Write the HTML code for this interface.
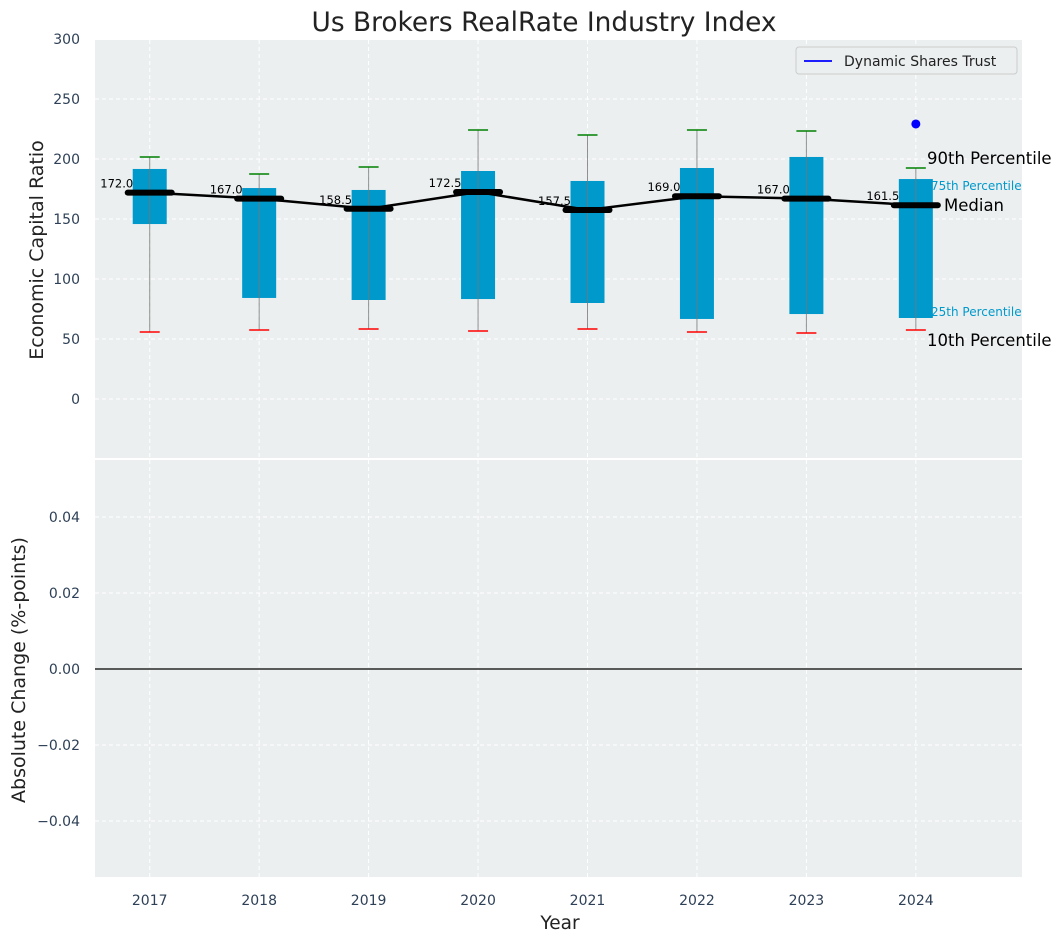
<!DOCTYPE html>
<html><head><meta charset="utf-8"><style>
body{margin:0;background:#fff;}
svg{display:block;font-family:"DejaVu Sans","Liberation Sans",sans-serif;}
</style></head><body>
<svg id="c" width="1062" height="942"></svg>
<script>
const years=[2017,2018,2019,2020,2021,2022,2023,2024];
const q1=[145.8,84.2,82.5,83.3,80,66.7,70.8,67.5];
const q3=[191.7,175.8,174.2,190,181.7,192.5,201.7,183.3];
const p10=[55.8,57.5,58.3,56.7,58.3,55.8,55,57.5];
const p90=[201.7,187.5,193.3,224.2,220,224.2,223.3,192.5];
const medians=[172.0,167.0,158.5,172.5,157.5,169.0,167.0,161.5];
const companyVal=[229.2];
const companyYear=[2024];
const topTicks=[0,50,100,150,200,250,300];
const botTicks=[-0.04,-0.02,0.00,0.02,0.04];

const NS="http://www.w3.org/2000/svg";
const svg=document.getElementById('c');
function mk(t,a,p){const e=document.createElementNS(NS,t);for(const k in a)e.setAttribute(k,a[k]);(p||svg).appendChild(e);return e;}
const L=95,R=1022,T1=40,B1=458,T2=460,B2=877;
const x=v=>L+(v-2016.5)/(2024.97-2016.5)*(R-L);
const y1=v=>399-v*1.2;
const y2=v=>669-v*3800;
const tc="#2e4057";

let e=mk('rect',{x:L,y:T1,width:R-L,height:B1-T1,fill:"#ebeff0"});

e=mk('rect',{x:L,y:T2,width:R-L,height:B2-T2,fill:"#ebeff0"});


years.forEach(yr=>{
 mk('line',{x1:x(yr),x2:x(yr),y1:T1,y2:B1,stroke:"#fff","stroke-dasharray":"4,3"});
 mk('line',{x1:x(yr),x2:x(yr),y1:T2,y2:B2,stroke:"#fff","stroke-dasharray":"4,3"});
 const t=mk('text',{x:x(yr),y:905,"text-anchor":"middle","font-size":14,fill:tc});t.textContent=yr;
 
});
topTicks.forEach(v=>{
 mk('line',{x1:L,x2:R,y1:y1(v),y2:y1(v),stroke:"#fff","stroke-dasharray":"4,3"});
 const t=mk('text',{x:80,y:y1(v)+5,"text-anchor":"end","font-size":14,fill:tc});t.textContent=v;
 
});
botTicks.forEach(v=>{
 mk('line',{x1:L,x2:R,y1:y2(v),y2:y2(v),stroke:"#fff","stroke-dasharray":"4,3"});
 const t=mk('text',{x:80,y:y2(v)+5,"text-anchor":"end","font-size":14,fill:tc});t.textContent=(v<0?"\u2212":"")+Math.abs(v).toFixed(2);
 
});
e=mk('line',{x1:L,x2:R,y1:y2(0),y2:y2(0),stroke:"#000","stroke-width":1.2});


years.forEach((yr,i)=>{
 const cx=x(yr);
 e=mk('rect',{x:cx-17,y:y1(q3[i]),width:34,height:y1(q1[i])-y1(q3[i]),fill:"#0099cc"});
 
 e=mk('line',{x1:cx,x2:cx,y1:y1(p10[i]),y2:y1(p90[i]),stroke:"#777","stroke-width":1,opacity:0.8});
 
 e=mk('line',{x1:cx-10,x2:cx+10,y1:y1(p90[i]),y2:y1(p90[i]),stroke:"green","stroke-width":1.5});
 
 e=mk('line',{x1:cx-10,x2:cx+10,y1:y1(p10[i]),y2:y1(p10[i]),stroke:"red","stroke-width":1.5});
 
});
e=mk('polyline',{points:years.map((yr,i)=>x(yr)+","+y1(medians[i])).join(" "),fill:"none",stroke:"#000","stroke-width":2.5});

years.forEach((yr,i)=>{
 const cx=x(yr);
 e=mk('line',{x1:cx-22,x2:cx+22,y1:y1(medians[i]),y2:y1(medians[i]),stroke:"#000","stroke-width":6,"stroke-linecap":"round"});
 
 const t=mk('text',{x:cx-33,y:y1(medians[i])-5,"text-anchor":"middle","font-size":11.5,fill:"#000"});t.textContent=medians[i].toFixed(1);
 
});
companyYear.forEach((yr,i)=>{
 e=mk('circle',{cx:x(yr),cy:y1(companyVal[i]),r:4.5,fill:"blue"});
 
});
const ann=[["90th Percentile",927,164,16.5,"#000"],["75th Percentile",931,190,12,"#0099cc"],["Median",944,211,16.5,"#000"],["25th Percentile",931,316,12,"#0099cc"],["10th Percentile",927,346,16.5,"#000"]];
ann.forEach(a=>{const t=mk('text',{x:a[1],y:a[2],"font-size":a[3],fill:a[4]});t.textContent=a[0];
 });

const g=mk('g',{});
mk('rect',{x:796,y:47,width:221,height:27,rx:3,fill:"#ebeff0",stroke:"#ccc"},g);
mk('line',{x1:804,x2:832,y1:61,y2:61,stroke:"blue","stroke-width":1.8},g);
let t=mk('text',{x:844,y:66,"font-size":14,fill:"#222"},g);t.textContent="Dynamic Shares Trust";

t=mk('text',{x:544,y:31,"text-anchor":"middle","font-size":26.4,fill:"#222"});t.textContent="Us Brokers RealRate Industry Index";

t=mk('text',{x:560,y:929,"text-anchor":"middle","font-size":18.5,fill:"#222"});t.textContent="Year";

t=mk('text',{x:0,y:0,"text-anchor":"middle","font-size":19,fill:"#222",transform:"translate(43,250) rotate(-90)"});t.textContent="Economic Capital Ratio";

t=mk('text',{x:0,y:0,"text-anchor":"middle","font-size":19,fill:"#222",transform:"translate(25,670) rotate(-90)"});t.textContent="Absolute Change (%-points)";

</script>
</body></html>
